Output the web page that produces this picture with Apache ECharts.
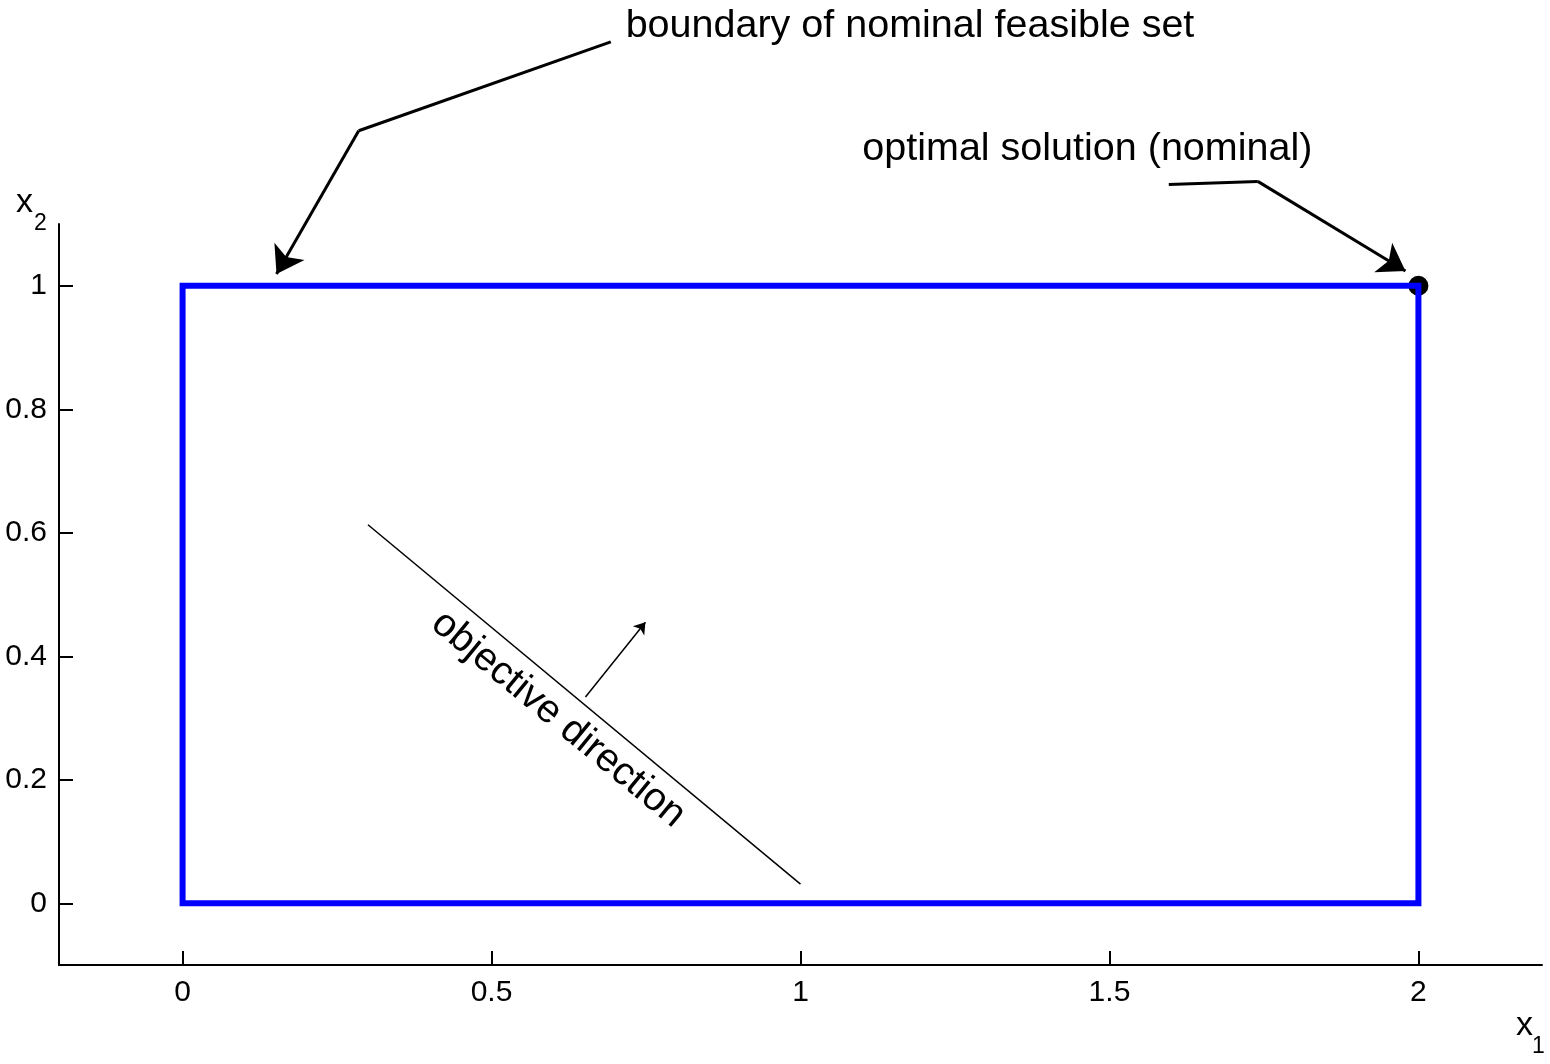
<!DOCTYPE html>
<html>
<head>
<meta charset="utf-8">
<script src="https://cdn.jsdelivr.net/npm/echarts@6/dist/echarts.min.js"></script>
<style>
html,body{margin:0;padding:0;background:#fff;}
#chart{width:1550px;height:1064px;}
</style>
</head>
<body>
<div id="chart"></div>
<script>
// ---- data ----
const xTicks = [0, 0.5, 1, 1.5, 2];
const yTicks = [0, 0.2, 0.4, 0.6, 0.8, 1];
const feasibleX = [0, 2, 2, 0, 0];
const feasibleY = [0, 0, 1, 1, 0];
const optimalPoint = [2, 1];
const objectiveLine = [[0.3, 0.613], [1.0, 0.031]];
const objectiveArrow = [[0.652, 0.334], [0.749, 0.455]];
const boundaryArrow = [[0.693, 1.395], [0.285, 1.251], [0.152, 1.019]];
const optimalArrow = [[1.596, 1.164], [1.740, 1.169], [1.979, 1.024]];
const boundaryText = 'boundary of nominal feasible set';
const boundaryTextAt = [0.717, 1.42];
const optimalText = 'optimal solution (nominal)';
const optimalTextAt = [1.100, 1.221];
const objectiveText = 'objective direction';
const objectiveTextAt = [0.608, 0.298];
const xName = ['x', '1'];
const yName = ['x', '2'];

const FONT = '"Liberation Sans", Arial, Helvetica, sans-serif';
const chart = echarts.init(document.getElementById('chart'), null, {renderer: 'canvas'});

// split polylines into plain leading segments and a final arrow segment
function leadSegments(pl) {
  const out = [];
  for (let i = 0; i < pl.length - 2; i++) out.push({coords: [pl[i], pl[i + 1]]});
  return out;
}
function lastSegment(pl) {
  return {coords: [pl[pl.length - 2], pl[pl.length - 1]]};
}

const axisCommon = {
  type: 'value',
  axisLine: {show: true, onZero: false, lineStyle: {color: '#000', width: 2}},
  splitLine: {show: false},
  axisTick: {show: true, inside: true, length: 14, lineStyle: {color: '#000', width: 2}},
  axisLabel: {color: '#000', fontSize: 30, fontFamily: FONT, margin: 12}
};

const textLabel = {color: '#000', fontSize: 39.5, fontFamily: FONT, textBorderWidth: 0};

const option = {
  animation: false,
  backgroundColor: '#fff',
  grid: {left: 59, right: 8, top: 224, bottom: 99, containLabel: false},
  xAxis: Object.assign({}, axisCommon, {
    min: -0.2, max: 2.2,
    axisTick: Object.assign({}, axisCommon.axisTick, {customValues: xTicks}),
    axisLabel: Object.assign({}, axisCommon.axisLabel, {customValues: xTicks, margin: 13, formatter: v => String(v)})
  }),
  yAxis: Object.assign({}, axisCommon, {
    min: -0.1, max: 1.1,
    axisTick: Object.assign({}, axisCommon.axisTick, {customValues: yTicks}),
    axisLabel: Object.assign({}, axisCommon.axisLabel, {customValues: yTicks, formatter: v => String(v)})
  }),
  graphic: [
    {type: 'text', left: 16, top: 186, style: {text: yName[0], font: '34px ' + FONT, fill: '#000'}},
    {type: 'text', left: 34, top: 212, style: {text: yName[1], font: '23px ' + FONT, fill: '#000'}},
    {type: 'text', left: 1516, top: 1009, style: {text: xName[0], font: '34px ' + FONT, fill: '#000'}},
    {type: 'text', left: 1532, top: 1035, style: {text: xName[1], font: '23px ' + FONT, fill: '#000'}}
  ],
  series: [
    {
      type: 'line', silent: true, clip: false,
      data: feasibleX.map((x, i) => [x, feasibleY[i]]),
      showSymbol: false, symbol: 'none',
      lineStyle: {color: '#0000ff', width: 6, join: 'miter', cap: 'square'}
    },
    {
      type: 'line', silent: true, clip: false,
      data: objectiveLine, showSymbol: false, symbol: 'none',
      lineStyle: {color: '#000', width: 1.5}
    },
    {
      type: 'lines', coordinateSystem: 'cartesian2d', silent: true, clip: false,
      symbol: ['none', 'arrow'], symbolSize: 11,
      lineStyle: {color: '#000', width: 1.5, opacity: 1},
      data: [{coords: objectiveArrow}]
    },
    {
      type: 'lines', coordinateSystem: 'cartesian2d', silent: true, clip: false,
      symbol: ['none', 'none'],
      lineStyle: {color: '#000', width: 3, opacity: 1},
      data: leadSegments(boundaryArrow).concat(leadSegments(optimalArrow))
    },
    {
      type: 'lines', coordinateSystem: 'cartesian2d', silent: true, clip: false,
      symbol: ['none', 'arrow'], symbolSize: 26,
      lineStyle: {color: '#000', width: 3, opacity: 1},
      data: [lastSegment(boundaryArrow), lastSegment(optimalArrow)]
    },
    {
      type: 'scatter', silent: true, clip: false,
      data: [optimalPoint], symbol: 'circle', symbolSize: 20,
      itemStyle: {color: '#000', opacity: 1}
    },
    {
      type: 'scatter', silent: true, clip: false, symbolSize: 0,
      itemStyle: {color: '#000', opacity: 1},
      data: [
        {value: boundaryTextAt, name: boundaryText,
         label: Object.assign({show: true, position: [0, 0], align: 'left', verticalAlign: 'middle', formatter: boundaryText}, textLabel)},
        {value: optimalTextAt, name: optimalText,
         label: Object.assign({show: true, position: [0, 0], align: 'left', verticalAlign: 'middle', formatter: optimalText}, textLabel)},
        {value: objectiveTextAt, name: objectiveText,
         label: Object.assign({show: true, position: [0, 0], align: 'center', verticalAlign: 'middle', rotate: -39.6, formatter: objectiveText}, textLabel)}
      ],
      label: textLabel
    }
  ]
};
chart.setOption(option);
</script>
</body>
</html>
